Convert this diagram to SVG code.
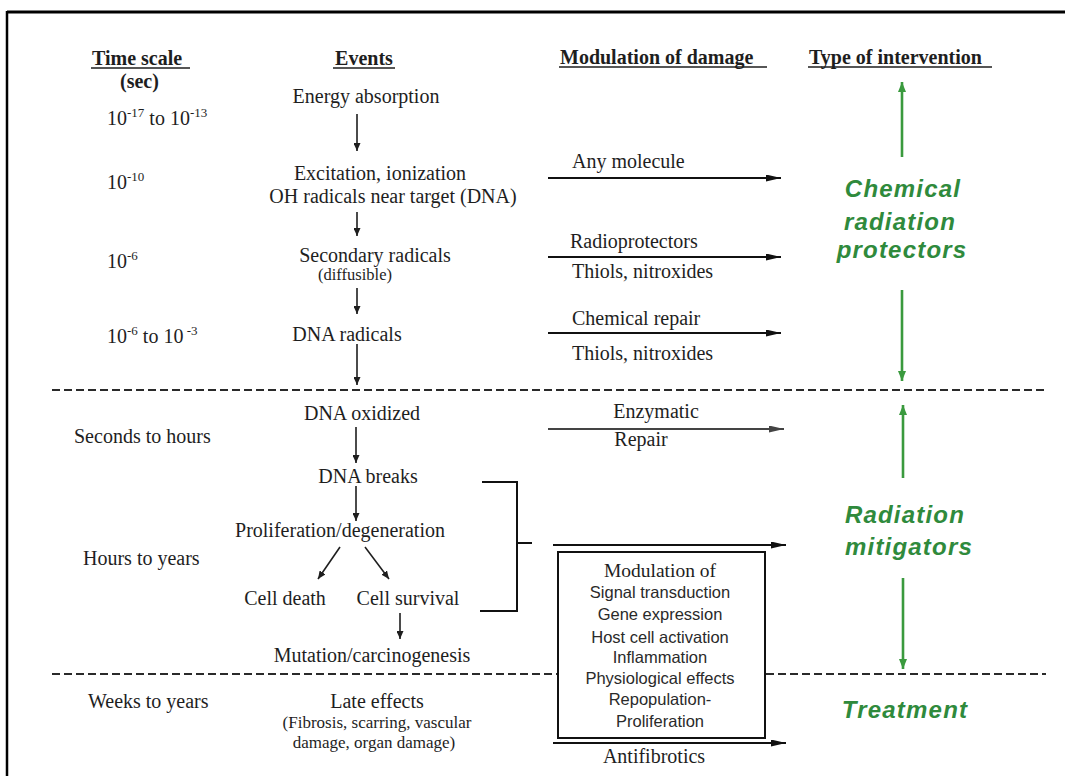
<svg xmlns="http://www.w3.org/2000/svg" width="1065" height="776" viewBox="0 0 1065 776">
<style>
.s{font-family:"Liberation Serif","Times New Roman",serif;font-size:20px;fill:#1e1e1e;}
.b{font-weight:bold;}
.sm{font-size:16.5px;}
.fx{font-size:17px;}
.sa{font-family:"Liberation Sans",Arial,sans-serif;font-size:16.5px;fill:#2a2a2a;}
.g{font-family:"Liberation Sans",Arial,sans-serif;font-size:24px;font-weight:bold;font-style:italic;fill:#2f8a3c;letter-spacing:1.2px;}
.c{text-anchor:middle;}
.sup{font-size:13px;}
.ln{stroke:#1e1e1e;stroke-width:1.6;fill:none;}
.ha{stroke:#111;stroke-width:2;fill:none;}
.ga{stroke:#3a9a3e;stroke-width:2.6;fill:none;}
.dash{stroke:#2a2a2a;stroke-width:2;stroke-dasharray:8 4;fill:none;}
.ul{stroke:#1e1e1e;stroke-width:1.5;}
</style>
<defs>
<marker id="av" markerWidth="8" markerHeight="7" refX="8" refY="3.5" orient="auto" markerUnits="userSpaceOnUse"><path d="M0,0 L8,3.5 L0,7 z" fill="#1e1e1e"/></marker>
<marker id="ah" markerWidth="15" markerHeight="7" refX="15" refY="3.5" orient="auto" markerUnits="userSpaceOnUse"><path d="M0,0 L15,3.5 L0,7 z" fill="#111"/></marker>
<marker id="ahg" markerWidth="15" markerHeight="7" refX="15" refY="3.5" orient="auto" markerUnits="userSpaceOnUse"><path d="M0,0 L15,3.5 L0,7 z" fill="#444"/></marker>
<marker id="ag" markerWidth="10" markerHeight="8" refX="10" refY="4" orient="auto" markerUnits="userSpaceOnUse"><path d="M0,0 L10,4 L0,8 z" fill="#3a9a3e"/></marker>
</defs>
<rect width="1065" height="776" fill="#ffffff"/>
<!-- frame -->
<g id="frame">
<line x1="7" y1="12" x2="1065" y2="12" stroke="#000" stroke-width="3"/>
<line x1="7" y1="11" x2="7" y2="776" stroke="#000" stroke-width="2.5"/>
</g>
<!-- headers -->
<g id="header-time">
<text class="s b" x="92" y="65">Time scale</text>
<line class="ul" x1="91" y1="68" x2="190" y2="68"/>
<text class="s b" x="120" y="88">(sec)</text>
</g>
<g id="header-events">
<text class="s b c" x="364" y="65">Events</text>
<line class="ul" x1="333" y1="68" x2="395" y2="68"/>
</g>
<g id="header-modulation">
<text class="s b" x="560" y="64">Modulation of damage</text>
<line class="ul" x1="559" y1="67" x2="767" y2="67"/>
</g>
<g id="header-intervention">
<text class="s b" x="809" y="64">Type of intervention</text>
<line class="ul" x1="808" y1="67" x2="992" y2="67"/>
</g>
<!-- time scale -->
<g id="t1"><text class="s" x="107" y="125">10<tspan class="sup" dy="-8">-17</tspan><tspan dy="8"> to 10</tspan><tspan class="sup" dy="-8">-13</tspan></text></g>
<g id="t2"><text class="s" x="107" y="189">10<tspan class="sup" dy="-8">-10</tspan></text></g>
<g id="t3"><text class="s" x="107" y="268">10<tspan class="sup" dy="-8">-6</tspan></text></g>
<g id="t4"><text class="s" x="107" y="343">10<tspan class="sup" dy="-8">-6</tspan><tspan dy="8"> to 10</tspan><tspan class="sup" dy="-8"> -3</tspan></text></g>
<g id="t5"><text class="s" x="74" y="443">Seconds to hours</text></g>
<g id="t6"><text class="s" x="83" y="565">Hours to years</text></g>
<g id="t7"><text class="s" x="88" y="708">Weeks to years</text></g>
<!-- events -->
<g id="e-energy"><text class="s c" x="366" y="103">Energy absorption</text></g>
<g id="e-excitation"><text class="s c" x="380" y="180">Excitation, ionization</text><text class="s c" x="393" y="203">OH radicals near target (DNA)</text></g>
<g id="e-secondary"><text class="s c" x="375" y="262">Secondary radicals</text><text class="s c sm" x="355" y="280">(diffusible)</text></g>
<g id="e-dnarad"><text class="s c" x="347" y="341">DNA radicals</text></g>
<g id="e-dnaox"><text class="s c" x="362" y="420">DNA oxidized</text></g>
<g id="e-breaks"><text class="s c" x="368" y="483">DNA breaks</text></g>
<g id="e-prolif"><text class="s c" x="340" y="537">Proliferation/degeneration</text></g>
<g id="e-death"><text class="s c" x="285" y="605">Cell death</text></g>
<g id="e-survival"><text class="s c" x="408" y="605">Cell survival</text></g>
<g id="e-mutation"><text class="s c" x="372" y="662">Mutation/carcinogenesis</text></g>
<g id="e-late"><text class="s c" x="377" y="708">Late effects</text><text class="s c fx" x="377" y="728">(Fibrosis, scarring, vascular</text><text class="s c fx" x="374" y="748">damage, organ damage)</text></g>
<!-- modulation labels -->
<g id="m-any"><text class="s" x="572" y="168">Any molecule</text></g>
<g id="m-radio"><text class="s" x="570" y="248">Radioprotectors</text><text class="s" x="572" y="278">Thiols, nitroxides</text></g>
<g id="m-chem"><text class="s" x="572" y="325">Chemical repair</text><text class="s" x="572" y="360">Thiols, nitroxides</text></g>
<g id="m-enz"><text class="s c" x="656" y="418">Enzymatic</text><text class="s c" x="641" y="446">Repair</text></g>
<g id="m-box">
<rect x="558" y="552" width="207" height="186" fill="#fff" stroke="#111" stroke-width="2"/>
<text class="s c" x="660" y="577" style="font-size:19.5px">Modulation of</text>
<text class="sa c" x="660" y="598">Signal transduction</text>
<text class="sa c" x="660" y="620">Gene expression</text>
<text class="sa c" x="660" y="643">Host cell activation</text>
<text class="sa c" x="660" y="663">Inflammation</text>
<text class="sa c" x="660" y="684">Physiological effects</text>
<text class="sa c" x="660" y="705">Repopulation-</text>
<text class="sa c" x="660" y="727">Proliferation</text>
</g>
<g id="m-anti"><text class="s c" x="654" y="763">Antifibrotics</text></g>
<!-- interventions -->
<g id="i-chem"><text class="g c" x="903" y="197">Chemical</text><text class="g c" x="900" y="230">radiation</text><text class="g c" x="902" y="258">protectors</text></g>
<g id="i-mit"><text class="g c" x="905" y="523">Radiation</text><text class="g c" x="909" y="555">mitigators</text></g>
<g id="i-treat"><text class="g c" x="905" y="718">Treatment</text></g>
<!-- connectors -->
<g id="connectors">
<line class="dash" x1="52" y1="390" x2="1046" y2="390"/>
<line class="dash" x1="52" y1="674" x2="557" y2="674"/>
<line class="dash" x1="766" y1="674" x2="1046" y2="674"/>
<line class="ln" x1="357" y1="114" x2="357" y2="151" marker-end="url(#av)"/>
<line class="ln" x1="357" y1="212" x2="357" y2="236" marker-end="url(#av)"/>
<line class="ln" x1="357" y1="288" x2="357" y2="314" marker-end="url(#av)"/>
<line class="ln" x1="357" y1="344" x2="357" y2="385" marker-end="url(#av)"/>
<line class="ln" x1="356" y1="427" x2="356" y2="463" marker-end="url(#av)"/>
<line class="ln" x1="356" y1="486" x2="356" y2="521" marker-end="url(#av)"/>
<line class="ln" x1="340" y1="547" x2="318" y2="579" marker-end="url(#av)"/>
<line class="ln" x1="365" y1="547" x2="389" y2="579" marker-end="url(#av)"/>
<line class="ln" x1="400" y1="613" x2="400" y2="639" marker-end="url(#av)"/>
<line class="ha" x1="548" y1="178" x2="781" y2="178" marker-end="url(#ah)"/>
<line class="ha" x1="548" y1="257" x2="781" y2="257" marker-end="url(#ah)"/>
<line class="ha" x1="548" y1="333" x2="781" y2="333" marker-end="url(#ah)"/>
<line x1="548" y1="429" x2="784" y2="429" stroke="#444" stroke-width="2.2" marker-end="url(#ahg)"/>
<line class="ha" x1="553" y1="545" x2="786" y2="545" marker-end="url(#ah)"/>
<line class="ha" x1="553" y1="743" x2="786" y2="743" marker-end="url(#ah)"/>
<polyline class="ha" points="482,482 517,482 517,611 480,611"/>
<line class="ha" x1="517" y1="543" x2="532" y2="543"/>
<line class="ga" x1="902" y1="157" x2="902" y2="82" marker-end="url(#ag)"/>
<line class="ga" x1="902" y1="290" x2="902" y2="381" marker-end="url(#ag)"/>
<line class="ga" x1="903" y1="478" x2="903" y2="405" marker-end="url(#ag)"/>
<line class="ga" x1="903" y1="578" x2="903" y2="669" marker-end="url(#ag)"/>
</g>
</svg>
